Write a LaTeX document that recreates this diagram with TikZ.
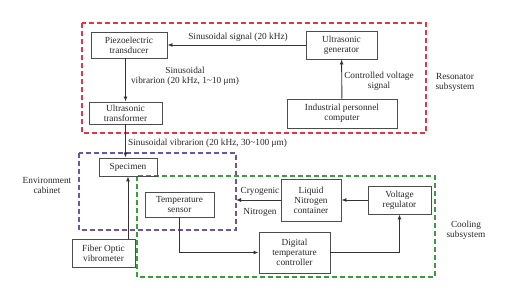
\documentclass[tikz,border=0pt]{standalone}
\usepackage{fontspec}
\setmainfont{Liberation Serif}
\usetikzlibrary{positioning,arrows.meta}
\definecolor{zonered}{RGB}{230,52,68}
\definecolor{zonepurple}{RGB}{108,82,168}
\definecolor{zonegreen}{RGB}{58,158,62}

\begin{document}
\begin{tikzpicture}[x=1pt,y=-1pt,font=\fontsize{9.3}{10}\selectfont,>={Latex[length=5pt,width=4pt]}]
    \tikzstyle{block}=[draw=black!70,line width=0.9pt,align=center,inner sep=1pt,text=black!85]
    \tikzstyle{flow}=[->,line width=0.9pt,black!80]
    \tikzstyle{zone}=[line width=1.1pt,dash pattern=on 5pt off 3pt]
    \tikzstyle{note}=[align=center,inner sep=0pt,text=black!85]
    \useasboundingbox (0,0) rectangle (520,296);

    % subsystems
    \draw[zone,draw=zonered] (82,23) rectangle (426,133);
    \draw[zone,draw=zonepurple] (79,153) rectangle (236,230);
    \draw[zone,draw=zonegreen] (137,176) rectangle (435,277);

    % resonator subsystem
    \node[block,minimum width=76pt,minimum height=26pt] (piezo) at (129,45) {Piezoelectric\\transducer};
    \node[block,minimum width=73pt,minimum height=22pt] (transf) at (125.5,113) {Ultrasonic\\transformer};
    \node[block,minimum width=71pt,minimum height=28pt] (gen) at (341.5,45) {Ultrasonic\\generator};
    \node[block,minimum width=110pt,minimum height=29pt] (pc) at (342,113.5) {Industrial personnel\\computer};

    % environment cabinet
    \node[block,minimum width=58pt,minimum height=18pt] (spec) at (128,167) {Specimen};
    \node[block,minimum width=63pt,minimum height=28pt] (fiber) at (103.5,253) {Fiber Optic\\vibrometer};

    % cooling subsystem
    \node[block,minimum width=69pt,minimum height=25pt] (sensor) at (179.5,204.5) {Temperature\\sensor};
    \node[block,minimum width=71pt,minimum height=41pt] (ctrl) at (294.5,252.5) {Digital\\temperature\\controller};
    \node[block,minimum width=60pt,minimum height=42pt] (ln2) at (311,200) {Liquid\\Nitrogen\\container};
    \node[block,minimum width=63pt,minimum height=28pt] (reg) at (399.5,200) {Voltage\\regulator};
    \coordinate (cab) at (236,200);

    % connections
    \draw[flow] (gen) -- (piezo);
    \draw[flow] (transf.north |- piezo.south) -- (transf.north);
    \draw[flow] (pc) -- (gen);
    \draw[flow] (transf.south) -- (transf.south |- spec.north);
    \draw[flow] (spec.south |- fiber.north) -- (spec.south);
    \draw[flow] (reg) -- (ln2);
    \draw[flow] (ln2) -- (cab);
    \draw[flow] (sensor.south) |- (ctrl.west);
    \draw[flow] (ctrl.east) -| (reg.south);

    % labels
    \node[note] (lsig) at (238,37) {Sinusoidal signal (20 kHz)};
    \node[note] (lvib) at (185,76) {Sinusoidal\\vibrarion (20 kHz, 1\textasciitilde10 μm)};
    \node[note] (lvolt) at (379,81) {Controlled voltage\\signal};
    \node[note] (lres) at (455,82) {Resonator\\subsystem};
    \node[note,anchor=west] (lvib2) at (128,143) {Sinusoidal vibrarion (20 kHz, 30\textasciitilde100 μm)};
    \node[note] (lenv) at (47,185) {Environment\\cabinet};
    \node[note] (lcryo) at (260,191) {Cryogenic};
    \node[note] (lnit) at (260,212) {Nitrogen};
    \node[note] (lcool) at (466,230) {Cooling\\subsystem};
\end{tikzpicture}
\end{document}
